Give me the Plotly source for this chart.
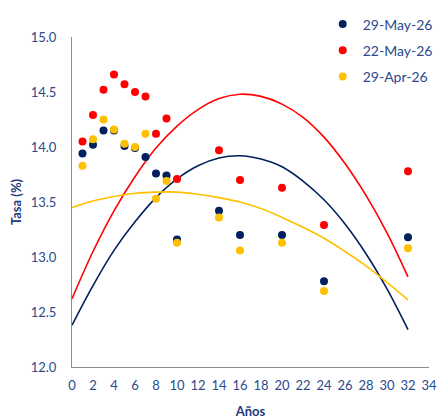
import plotly.graph_objects as go

# ---- data ----
plazos = [1, 2, 3, 4, 5, 6, 7, 8, 9, 10, 14, 16, 20, 24, 32]
may29 = [13.94, 14.02, 14.15, 14.15, 14.01, 13.99, 13.91, 13.76, 13.74, 13.16, 13.42, 13.20, 13.20, 12.78, 13.18]
may22 = [14.05, 14.29, 14.52, 14.66, 14.57, 14.50, 14.46, 14.12, 14.26, 13.71, 13.97, 13.70, 13.63, 13.29, 13.78]
apr29 = [13.83, 14.07, 14.25, 14.16, 14.03, 14.00, 14.12, 13.53, 13.69, 13.13, 13.36, 13.06, 13.13, 12.69, 13.08]

# trend curves
curva_x = [0, 2, 4, 6, 8, 10, 12, 14, 16, 18, 20, 22, 24, 26, 28, 30, 32]
curva_may29 = [12.38, 12.74, 13.06, 13.32, 13.54, 13.71, 13.83, 13.90, 13.92, 13.89, 13.82, 13.69, 13.52, 13.30, 13.03, 12.71, 12.34]
curva_may22 = [12.62, 13.05, 13.42, 13.73, 13.99, 14.19, 14.34, 14.44, 14.48, 14.46, 14.39, 14.27, 14.09, 13.85, 13.56, 13.22, 12.82]
curva_apr29 = [13.45, 13.51, 13.55, 13.58, 13.59, 13.59, 13.57, 13.54, 13.50, 13.44, 13.36, 13.27, 13.17, 13.05, 12.92, 12.77, 12.61]

nombres = ["29-May-26", "22-May-26", "29-Apr-26"]
colores = ["#002060", "#FF0000", "#FFC000"]

FONT = "Lato"
TXT = "#2A4A8C"

fig = go.Figure()
for cx, cy, col in [(curva_x, curva_may29, colores[0]), (curva_x, curva_may22, colores[1]), (curva_x, curva_apr29, colores[2])]:
    fig.add_trace(go.Scatter(x=cx, y=cy, mode="lines", line=dict(color=col, width=1.6, shape="spline"),
                             showlegend=False, hoverinfo="skip"))

for i, (vals, name) in enumerate([(may29, nombres[0]), (may22, nombres[1]), (apr29, nombres[2])]):
    fig.add_trace(go.Scatter(x=plazos, y=vals, mode="markers", name=name, legendgroup=f"g{i}",
                             marker=dict(color=colores[i], size=8)))

fig.update_layout(
    width=438, height=419,
    margin=dict(l=72, r=0, t=0, b=52, autoexpand=False),
    paper_bgcolor="white", plot_bgcolor="white",
    font=dict(family=FONT, color=TXT, size=13),
    legend=dict(x=0.685, y=0.977, xanchor="left", yanchor="top", font=dict(size=14, color=TXT),
                tracegroupgap=5, bgcolor="rgba(0,0,0,0)", itemwidth=30),
    showlegend=True,
)
fig.update_xaxes(range=[0, 34], dtick=2, tick0=0, showgrid=False, zeroline=False, automargin=False,
                 domain=[0, 357 / 366], ticklabeloverflow="allow",
                 showline=True, linecolor="#8C8C8C", linewidth=1, ticks="", ticklabelstandoff=6,
                 tickfont=dict(size=13, color=TXT),
                 title=dict(text="<b>Años</b>", font=dict(size=13, color="#1F3A7A"), standoff=17))
fig.update_yaxes(range=[12, 15], dtick=0.5, tick0=12, tickformat=".1f", showgrid=False, zeroline=False,
                 automargin=False, domain=[0, 330 / 367],
                 showline=True, linecolor="#8C8C8C", linewidth=1, ticks="", ticklabelstandoff=12,
                 tickfont=dict(size=13, color=TXT),
                 title=dict(text="<b>Tasa (%)</b>", font=dict(size=13, color="#1F3A7A"), standoff=6))

fig.write_html("out.html", config={"displayModeBar": False},
               post_script="document.body.style.margin='0';document.body.style.overflow='hidden';")
